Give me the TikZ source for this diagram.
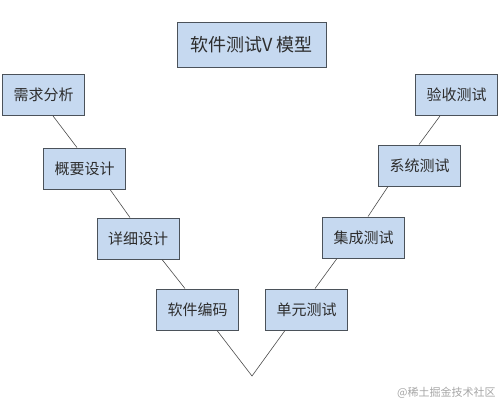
\documentclass[tikz,border=0pt]{standalone}
\usepackage{fontspec}
\newfontfamily\cjk{Noto Sans CJK SC}
\definecolor{boxblue}{RGB}{198,217,240}
\definecolor{boxline}{RGB}{75,82,90}
\definecolor{txtgray}{RGB}{45,45,45}

\begin{document}
\begin{tikzpicture}
  [x=1pt,y=-1pt,
   every node/.style={draw=boxline,line width=0.9pt,fill=boxblue,text=txtgray,
     minimum width=82pt,minimum height=41pt,inner sep=0pt,font=\cjk\fontsize{15}{15}\selectfont},
   vline/.style={draw=black!70,line width=0.6pt}]
  \useasboundingbox (0,0) rectangle (500,402);

  \node (title) at (251.5,44.5) [minimum width=149pt,minimum height=45pt,
    font=\cjk\fontsize{18}{18}\selectfont] {软件测试V 模型};

  \node (xq) at (43.5,95)    {需求分析};
  \node (gy) at (84.5,168.5) {概要设计};
  \node (xx) at (138,238.5)  {详细设计};
  \node (bm) at (197.5,309.5) {软件编码};
  \node (dy) at (306.5,309.5) {单元测试};
  \node (jc) at (363.5,237.5) {集成测试};
  \node (xt) at (419.5,165.5) {系统测试};
  \node (ys) at (456.5,95)    {验收测试};
  \coordinate (v) at (252,376);

  \foreach \from/\a/\to/\b in {xq/9.5/gy/-7.5,gy/25.5/xx/-8,xx/24/bm/-12.5,
      jc/-26.5/dy/8.5,xt/-31.5/jc/4.5,ys/-16.5/xt/-0.5}
    \draw[vline] ([xshift=\a pt]\from.south) -- ([xshift=\b pt]\to.north);
  \draw[vline] ([xshift=19.5pt]bm.south) -- (v) -- ([xshift=-21.5pt]dy.south);

  \node (mark) [draw=none,fill=none,minimum width=0pt,minimum height=0pt,
    anchor=east,text=black!35,font=\cjk\fontsize{11}{11}\selectfont] at (496,393) {@稀土掘金技术社区};

\end{tikzpicture}
\end{document}
